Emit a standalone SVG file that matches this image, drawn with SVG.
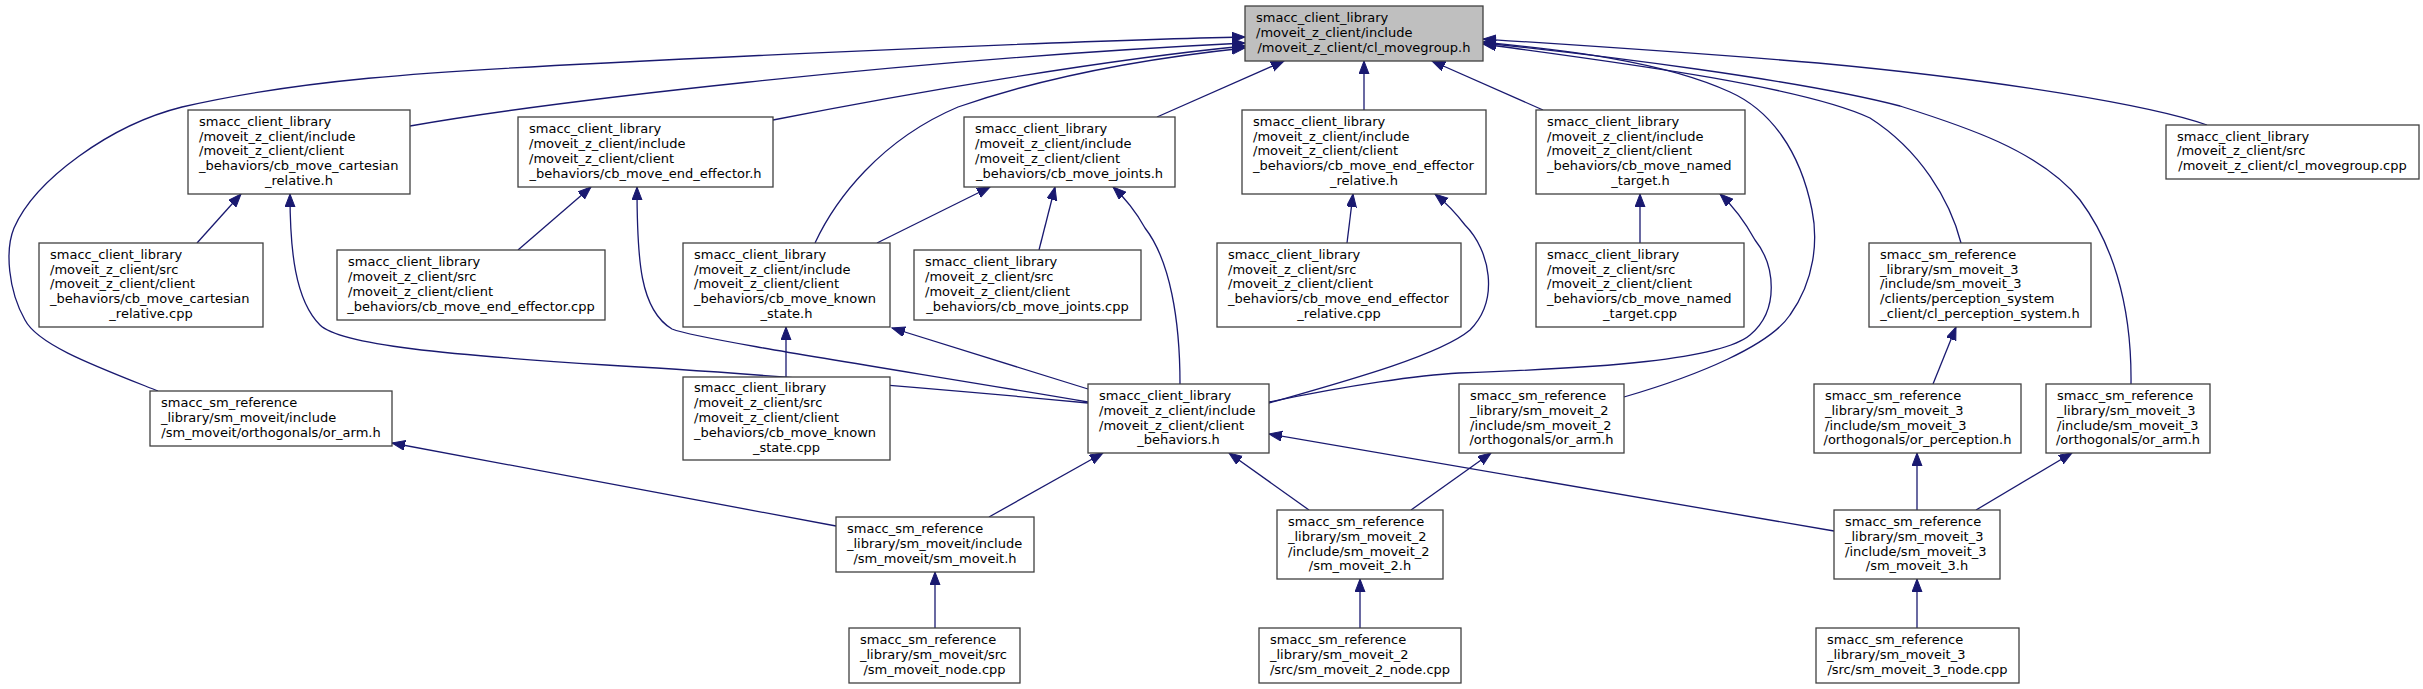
<svg xmlns="http://www.w3.org/2000/svg" width="2423" height="689" viewBox="0 0 2423 689">
<style>
.bg{fill:#ffffff}
.box{fill:#ffffff;stroke:#404040;stroke-width:1.3}
.root{fill:#bfbfbf;stroke:#404040;stroke-width:1.3}
text{font-family:"DejaVu Sans","Liberation Sans",sans-serif;font-size:13px;fill:#000000}
.c{text-anchor:middle}
.e{fill:none;stroke:#191970;stroke-width:1.3}
</style>
<defs>
<marker id="ah" markerUnits="userSpaceOnUse" markerWidth="16" markerHeight="12" refX="13" refY="5" orient="auto">
<path d="M0,0 L13,5 L0,10 z" fill="#191970" stroke="#191970" stroke-width="1"/>
</marker>
</defs>
<rect class="bg" x="0" y="0" width="2423" height="689"/>
<g id="edges">
<path class="e" marker-end="url(#ah)" d="M158,391 C95,366 38,345 25,320 C8,290 5,250 14,228 C35,180 110,125 182,107 C300,80 420,72 606,63 C800,53 1100,40 1245,37"/>
<path class="e" marker-end="url(#ah)" d="M410,126 C540,103 900,60 1245,43"/>
<path class="e" marker-end="url(#ah)" d="M773,120 C900,95 1100,60 1245,46"/>
<path class="e" marker-end="url(#ah)" d="M815,243 C835,200 880,140 958,107 C1050,75 1150,58 1245,48"/>
<path class="e" marker-end="url(#ah)" d="M1157,117 L1284,61"/>
<path class="e" marker-end="url(#ah)" d="M1364,110 L1364,61"/>
<path class="e" marker-end="url(#ah)" d="M1543,110 L1432,61"/>
<path class="e" marker-end="url(#ah)" d="M1624,397 C1700,375 1770,345 1790,315 C1815,280 1818,240 1812,210 C1800,150 1770,110 1730,92 C1660,60 1560,50 1483,42"/>
<path class="e" marker-end="url(#ah)" d="M1961,243 C1950,200 1920,150 1870,118 C1800,85 1600,60 1483,44"/>
<path class="e" marker-end="url(#ah)" d="M2131,384 C2132,300 2110,240 2080,200 C2040,150 1960,125 1900,106 C1800,80 1600,55 1483,43"/>
<path class="e" marker-end="url(#ah)" d="M2207,125 C2150,105 2000,80 1818,63 C1700,53 1560,44 1483,39"/>
<path class="e" marker-end="url(#ah)" d="M1088,403 C900,385 700,370 606,365 C450,355 340,345 320,325 C295,300 290,250 290,194"/>
<path class="e" marker-end="url(#ah)" d="M1088,402 C900,370 700,340 672,329 C640,310 637,260 637,187"/>
<path class="e" marker-end="url(#ah)" d="M1088,389 L892,328"/>
<path class="e" marker-end="url(#ah)" d="M1180,384 C1180,320 1170,260 1145,228 C1135,210 1125,198 1113,187"/>
<path class="e" marker-end="url(#ah)" d="M1269,403 C1350,380 1440,355 1470,330 C1500,300 1490,250 1465,225 C1455,212 1445,202 1435,194"/>
<path class="e" marker-end="url(#ah)" d="M1269,402 C1350,385 1420,375 1459,373 C1600,368 1720,360 1750,335 C1780,310 1775,265 1755,240 C1745,222 1732,205 1720,194"/>
<path class="e" marker-end="url(#ah)" d="M197,243 L241,194"/>
<path class="e" marker-end="url(#ah)" d="M518,250 L591,187"/>
<path class="e" marker-end="url(#ah)" d="M786,377 L786,327"/>
<path class="e" marker-end="url(#ah)" d="M1039,250 L1055,187"/>
<path class="e" marker-end="url(#ah)" d="M877,243 L990,187"/>
<path class="e" marker-end="url(#ah)" d="M1347,243 L1353,194"/>
<path class="e" marker-end="url(#ah)" d="M1640,243 L1640,194"/>
<path class="e" marker-end="url(#ah)" d="M1933,384 L1956,327"/>
<path class="e" marker-end="url(#ah)" d="M989,517 L1103,453"/>
<path class="e" marker-end="url(#ah)" d="M836,526 L392,443"/>
<path class="e" marker-end="url(#ah)" d="M935,628 L935,572"/>
<path class="e" marker-end="url(#ah)" d="M1309,510 L1229,453"/>
<path class="e" marker-end="url(#ah)" d="M1411,510 L1491,453"/>
<path class="e" marker-end="url(#ah)" d="M1360,628 L1360,579"/>
<path class="e" marker-end="url(#ah)" d="M1834,531 L1269,434"/>
<path class="e" marker-end="url(#ah)" d="M1917,510 L1917,453"/>
<path class="e" marker-end="url(#ah)" d="M1976,510 L2072,453"/>
<path class="e" marker-end="url(#ah)" d="M1917,628 L1917,579"/>
</g>
<g id="n0"><rect class="root" x="1245" y="6" width="238" height="55"/>
<text x="1256" y="22.1">smacc_client_library</text><text x="1256" y="36.9">/moveit_z_client/include</text><text class="c" x="1364" y="51.7">/moveit_z_client/cl_movegroup.h</text></g>
<g id="n1"><rect class="box" x="188" y="110" width="222" height="84"/>
<text x="199" y="125.8">smacc_client_library</text><text x="199" y="140.6">/moveit_z_client/include</text><text x="199" y="155.4">/moveit_z_client/client</text><text x="199" y="170.2">_behaviors/cb_move_cartesian</text><text class="c" x="299" y="185">_relative.h</text></g>
<g id="n2"><rect class="box" x="518" y="117" width="255" height="70"/>
<text x="529" y="133.2">smacc_client_library</text><text x="529" y="148">/moveit_z_client/include</text><text x="529" y="162.8">/moveit_z_client/client</text><text class="c" x="645.5" y="177.6">_behaviors/cb_move_end_effector.h</text></g>
<g id="n3"><rect class="box" x="964" y="117" width="211" height="70"/>
<text x="975" y="133.2">smacc_client_library</text><text x="975" y="148">/moveit_z_client/include</text><text x="975" y="162.8">/moveit_z_client/client</text><text class="c" x="1069.5" y="177.6">_behaviors/cb_move_joints.h</text></g>
<g id="n4"><rect class="box" x="1242" y="110" width="244" height="84"/>
<text x="1253" y="125.8">smacc_client_library</text><text x="1253" y="140.6">/moveit_z_client/include</text><text x="1253" y="155.4">/moveit_z_client/client</text><text x="1253" y="170.2">_behaviors/cb_move_end_effector</text><text class="c" x="1364" y="185">_relative.h</text></g>
<g id="n5"><rect class="box" x="1536" y="110" width="209" height="84"/>
<text x="1547" y="125.8">smacc_client_library</text><text x="1547" y="140.6">/moveit_z_client/include</text><text x="1547" y="155.4">/moveit_z_client/client</text><text x="1547" y="170.2">_behaviors/cb_move_named</text><text class="c" x="1640.5" y="185">_target.h</text></g>
<g id="n6"><rect class="box" x="2166" y="125" width="253" height="54"/>
<text x="2177" y="140.6">smacc_client_library</text><text x="2177" y="155.4">/moveit_z_client/src</text><text class="c" x="2292.5" y="170.2">/moveit_z_client/cl_movegroup.cpp</text></g>
<g id="n7"><rect class="box" x="39" y="243" width="224" height="84"/>
<text x="50" y="258.8">smacc_client_library</text><text x="50" y="273.6">/moveit_z_client/src</text><text x="50" y="288.4">/moveit_z_client/client</text><text x="50" y="303.2">_behaviors/cb_move_cartesian</text><text class="c" x="151" y="318">_relative.cpp</text></g>
<g id="n8"><rect class="box" x="337" y="250" width="268" height="70"/>
<text x="348" y="266.2">smacc_client_library</text><text x="348" y="281">/moveit_z_client/src</text><text x="348" y="295.8">/moveit_z_client/client</text><text class="c" x="471" y="310.6">_behaviors/cb_move_end_effector.cpp</text></g>
<g id="n9"><rect class="box" x="683" y="243" width="207" height="84"/>
<text x="694" y="258.8">smacc_client_library</text><text x="694" y="273.6">/moveit_z_client/include</text><text x="694" y="288.4">/moveit_z_client/client</text><text x="694" y="303.2">_behaviors/cb_move_known</text><text class="c" x="786.5" y="318">_state.h</text></g>
<g id="n10"><rect class="box" x="914" y="250" width="227" height="70"/>
<text x="925" y="266.2">smacc_client_library</text><text x="925" y="281">/moveit_z_client/src</text><text x="925" y="295.8">/moveit_z_client/client</text><text class="c" x="1027.5" y="310.6">_behaviors/cb_move_joints.cpp</text></g>
<g id="n11"><rect class="box" x="1217" y="243" width="244" height="84"/>
<text x="1228" y="258.8">smacc_client_library</text><text x="1228" y="273.6">/moveit_z_client/src</text><text x="1228" y="288.4">/moveit_z_client/client</text><text x="1228" y="303.2">_behaviors/cb_move_end_effector</text><text class="c" x="1339" y="318">_relative.cpp</text></g>
<g id="n12"><rect class="box" x="1536" y="243" width="208" height="84"/>
<text x="1547" y="258.8">smacc_client_library</text><text x="1547" y="273.6">/moveit_z_client/src</text><text x="1547" y="288.4">/moveit_z_client/client</text><text x="1547" y="303.2">_behaviors/cb_move_named</text><text class="c" x="1640" y="318">_target.cpp</text></g>
<g id="n13"><rect class="box" x="1869" y="243" width="222" height="84"/>
<text x="1880" y="258.8">smacc_sm_reference</text><text x="1880" y="273.6">_library/sm_moveit_3</text><text x="1880" y="288.4">/include/sm_moveit_3</text><text x="1880" y="303.2">/clients/perception_system</text><text class="c" x="1980" y="318">_client/cl_perception_system.h</text></g>
<g id="n14"><rect class="box" x="683" y="377" width="207" height="83"/>
<text x="694" y="392.3">smacc_client_library</text><text x="694" y="407.1">/moveit_z_client/src</text><text x="694" y="421.9">/moveit_z_client/client</text><text x="694" y="436.7">_behaviors/cb_move_known</text><text class="c" x="786.5" y="451.5">_state.cpp</text></g>
<g id="n15"><rect class="box" x="1088" y="384" width="181" height="69"/>
<text x="1099" y="399.9">smacc_client_library</text><text x="1099" y="414.7">/moveit_z_client/include</text><text x="1099" y="429.5">/moveit_z_client/client</text><text class="c" x="1178.5" y="444.3">_behaviors.h</text></g>
<g id="n16"><rect class="box" x="150" y="391" width="242" height="55"/>
<text x="161" y="407.1">smacc_sm_reference</text><text x="161" y="421.9">_library/sm_moveit/include</text><text class="c" x="271" y="436.7">/sm_moveit/orthogonals/or_arm.h</text></g>
<g id="n17"><rect class="box" x="1459" y="384" width="165" height="69"/>
<text x="1470" y="399.9">smacc_sm_reference</text><text x="1470" y="414.7">_library/sm_moveit_2</text><text x="1470" y="429.5">/include/sm_moveit_2</text><text class="c" x="1541.5" y="444.3">/orthogonals/or_arm.h</text></g>
<g id="n18"><rect class="box" x="1814" y="384" width="207" height="69"/>
<text x="1825" y="399.9">smacc_sm_reference</text><text x="1825" y="414.7">_library/sm_moveit_3</text><text x="1825" y="429.5">/include/sm_moveit_3</text><text class="c" x="1917.5" y="444.3">/orthogonals/or_perception.h</text></g>
<g id="n19"><rect class="box" x="2046" y="384" width="164" height="69"/>
<text x="2057" y="399.9">smacc_sm_reference</text><text x="2057" y="414.7">_library/sm_moveit_3</text><text x="2057" y="429.5">/include/sm_moveit_3</text><text class="c" x="2128" y="444.3">/orthogonals/or_arm.h</text></g>
<g id="n20"><rect class="box" x="836" y="517" width="198" height="55"/>
<text x="847" y="533.1">smacc_sm_reference</text><text x="847" y="547.9">_library/sm_moveit/include</text><text class="c" x="935" y="562.7">/sm_moveit/sm_moveit.h</text></g>
<g id="n21"><rect class="box" x="1277" y="510" width="166" height="69"/>
<text x="1288" y="525.9">smacc_sm_reference</text><text x="1288" y="540.7">_library/sm_moveit_2</text><text x="1288" y="555.5">/include/sm_moveit_2</text><text class="c" x="1360" y="570.3">/sm_moveit_2.h</text></g>
<g id="n22"><rect class="box" x="1834" y="510" width="166" height="69"/>
<text x="1845" y="525.9">smacc_sm_reference</text><text x="1845" y="540.7">_library/sm_moveit_3</text><text x="1845" y="555.5">/include/sm_moveit_3</text><text class="c" x="1917" y="570.3">/sm_moveit_3.h</text></g>
<g id="n23"><rect class="box" x="849" y="628" width="171" height="55"/>
<text x="860" y="644.1">smacc_sm_reference</text><text x="860" y="658.9">_library/sm_moveit/src</text><text class="c" x="934.5" y="673.7">/sm_moveit_node.cpp</text></g>
<g id="n24"><rect class="box" x="1259" y="628" width="202" height="55"/>
<text x="1270" y="644.1">smacc_sm_reference</text><text x="1270" y="658.9">_library/sm_moveit_2</text><text class="c" x="1360" y="673.7">/src/sm_moveit_2_node.cpp</text></g>
<g id="n25"><rect class="box" x="1816" y="628" width="203" height="55"/>
<text x="1827" y="644.1">smacc_sm_reference</text><text x="1827" y="658.9">_library/sm_moveit_3</text><text class="c" x="1917.5" y="673.7">/src/sm_moveit_3_node.cpp</text></g>
</svg>
